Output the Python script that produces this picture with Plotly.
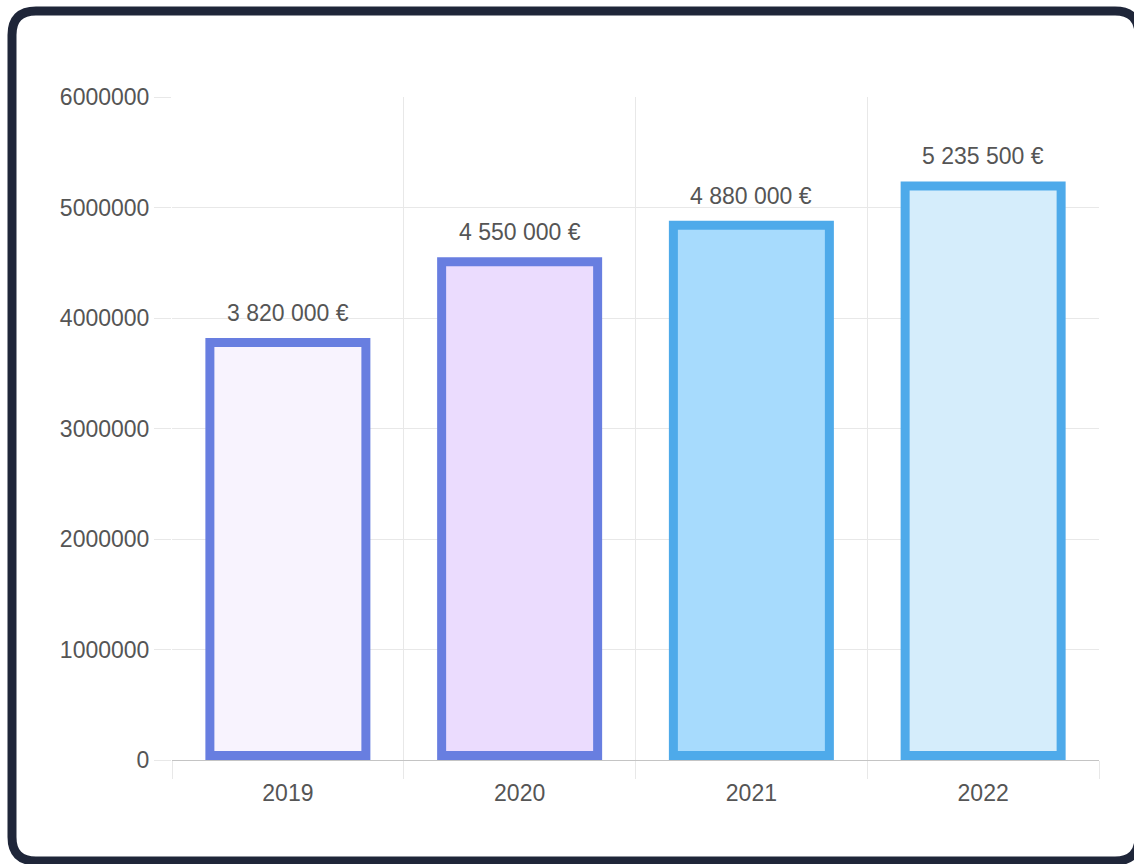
import plotly.graph_objects as go

# ---- data ----
years = ["2019", "2020", "2021", "2022"]
revenue = [3820000, 4550000, 4880000, 5235500]
fill_colors = ["#f8f3fe", "#ebdcfe", "#a7dbfd", "#d5edfb"]
border_colors = ["#687ee0", "#687ee0", "#4eaaea", "#4eaaea"]
y_ticks = [0, 1000000, 2000000, 3000000, 4000000, 5000000, 6000000]

# ---- layout geometry (pixels) ----
W, H = 1134, 864
L, R, T, B = 172, 35, 97, 104
PW, PH = W - L - R, H - T - B
Y_MAX = 6000000
border_px = 9
border_val = border_px * Y_MAX / PH
cat_px = PW / len(years)
outer_w = 165 / cat_px
inner_w = (165 - 2 * border_px) / cat_px
FONT = "Liberation Sans, Arial, sans-serif"
TXT = "#555555"


def fmt(v):
    return f"{v:,}".replace(",", " ") + " €"


fig = go.Figure()
# outer (border-colored) bars
fig.add_trace(go.Bar(
    x=years, y=revenue, width=outer_w,
    marker=dict(color=border_colors, line=dict(width=0)),
    hoverinfo="skip", showlegend=False,
))
# inner (fill) bars, inset by the border thickness
fig.add_trace(go.Bar(
    x=years, y=[v - 2 * border_val for v in revenue],
    base=[border_val] * len(revenue), width=inner_w,
    marker=dict(color=fill_colors, line=dict(width=0)),
    hoverinfo="skip", showlegend=False,
))

for i, v in enumerate(revenue):
    fig.add_annotation(x=i, y=v, xref="x", yref="y", text=fmt(v), showarrow=False,
                       yanchor="middle", yshift=25,
                       font=dict(size=23, color=TXT, family=FONT))


# ---- rounded dark frame ----
def px2p(x, y):
    return (x - L) / PW, (H - B - y) / PH


def frame_path(x0, y0, x1, y1, r):
    pts = []
    def P(x, y):
        px, py = px2p(x, y)
        return f"{px:.5f},{py:.5f}"
    pts.append("M " + P(x0 + r, y0))
    pts.append("L " + P(x1 - r, y0))
    pts.append("Q " + P(x1, y0) + " " + P(x1, y0 + r))
    pts.append("L " + P(x1, y1 - r))
    pts.append("Q " + P(x1, y1) + " " + P(x1 - r, y1))
    pts.append("L " + P(x0 + r, y1))
    pts.append("Q " + P(x0, y1) + " " + P(x0, y1 - r))
    pts.append("L " + P(x0, y0 + r))
    pts.append("Q " + P(x0, y0) + " " + P(x0 + r, y0))
    pts.append("Z")
    return " ".join(pts)


fig.add_shape(type="path", xref="paper", yref="paper",
              path=frame_path(12, 11, 1139, 861, 24),
              line=dict(color="#1f2639", width=9), fillcolor="rgba(0,0,0,0)",
              layer="above")

fig.update_layout(
    width=W, height=H,
    margin=dict(l=L, r=R, t=T, b=B, pad=0),
    paper_bgcolor="white", plot_bgcolor="white",
    barmode="overlay",
    font=dict(family=FONT, size=23, color=TXT),
    showlegend=False,
    xaxis=dict(
        type="category", categoryorder="array", categoryarray=years,
        range=[-0.5, len(years) - 0.5], tickson="boundaries",
        showgrid=True, gridcolor="#e8e8e8", gridwidth=1,
        ticks="outside", ticklen=18, tickcolor="#e8e8e8", tickwidth=1,
        ticklabelstandoff=17,
        showline=False, zeroline=False,
        tickfont=dict(size=23, color=TXT, family=FONT),
    ),
    yaxis=dict(
        range=[0, Y_MAX], tickvals=y_ticks, tickformat="d",
        showgrid=True, gridcolor="#e8e8e8", gridwidth=1,
        ticks="outside", ticklen=17, tickcolor="#e8e8e8", tickwidth=1,
        zeroline=True, zerolinecolor="#c4c4c4", zerolinewidth=1,
        showline=False,
        tickfont=dict(size=23, color=TXT, family=FONT),
    ),
)

fig.write_html("out.html", config={"displayModeBar": False})
